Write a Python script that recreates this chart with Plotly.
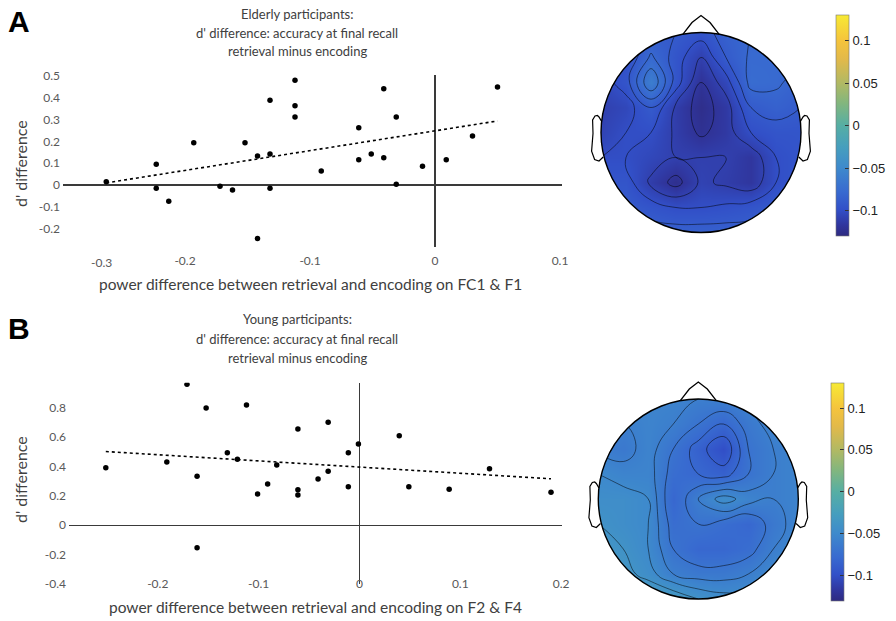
import numpy as np
import plotly.graph_objects as go

W, H = 896, 621

# ---------------- data ----------------
# A: elderly participants
eld_x = [-0.263, -0.223, -0.223, -0.213, -0.193, -0.172, -0.162, -0.152, -0.142, -0.142,
         -0.132, -0.132, -0.132, -0.112, -0.112, -0.112, -0.091, -0.061, -0.061, -0.051,
         -0.041, -0.041, -0.031, -0.031, -0.010, 0.009, 0.030, 0.050]
eld_y = [0.015, 0.095, -0.015, -0.075, 0.194, -0.006, -0.023, 0.194, 0.133, -0.245,
         0.389, 0.142, -0.015, 0.480, 0.364, 0.312, 0.064, 0.263, 0.116, 0.142,
         0.442, 0.125, 0.312, 0.003, 0.086, 0.116, 0.225, 0.450]

# B: young participants
yng_x = [-0.2515, -0.191, -0.171, -0.161, -0.161, -0.152, -0.131, -0.121, -0.112, -0.101,
         -0.091, -0.082, -0.061, -0.061, -0.061, -0.041, -0.031, -0.031, -0.011, -0.011,
         -0.001, 0.0395, 0.049, 0.089, 0.129, 0.190]
yng_y = [0.391, 0.430, 0.959, 0.333, -0.153, 0.798, 0.494, 0.449, 0.818, 0.212,
         0.280, 0.410, 0.655, 0.242, 0.206, 0.314, 0.700, 0.367, 0.494, 0.262,
         0.553, 0.609, 0.262, 0.244, 0.385, 0.224]

# tick labels
top_xticks = [-0.2, -0.1, 0, 0.1]
top_xtext = ["-0.2", "-0.1", "0", "0.1"]
top_yticks = [-0.2, -0.1, 0, 0.1, 0.2, 0.3, 0.4, 0.5]
top_ytext = ["-0.2", "-0.1", "0", "0.1", "0.2", "0.3", "0.4", "0.5"]
bot_xticks = [-0.2, -0.1, 0, 0.1, 0.2]
bot_xtext = ["-0.2", "-0.1", "0", "0.1", "0.2"]
bot_yticks = [-0.4, -0.2, 0, 0.2, 0.4, 0.6, 0.8]
bot_ytext = ["-0.4", "-0.2", "0", "0.2", "0.4", "0.6", "0.8"]
cb_range = [-0.13, 0.13]
cb_ticks = [-0.1, -0.05, 0, 0.05, 0.1]
cb_text = ["\u22120.1", "\u22120.05", "0", "0.05", "0.1"]

# topographic maps: coarse grid of power differences (head-normalised coords)
grid_u = [-1, -0.75, -0.5, -0.25, 0, 0.25, 0.5, 0.75, 1]
grid_v = [1, 0.75, 0.5, 0.25, 0, -0.25, -0.5, -0.75, -1]
topo_elderly = [
    [-0.100, -0.100, -0.090, -0.090, -0.095, -0.085, -0.080, -0.080, -0.080],
    [-0.100, -0.100, -0.078, -0.095, -0.110, -0.090, -0.078, -0.078, -0.080],
    [-0.105, -0.095, -0.060, -0.095, -0.120, -0.105, -0.076, -0.078, -0.085],
    [-0.110, -0.105, -0.090, -0.112, -0.125, -0.115, -0.090, -0.085, -0.090],
    [-0.108, -0.100, -0.100, -0.112, -0.122, -0.115, -0.100, -0.095, -0.095],
    [-0.100, -0.100, -0.105, -0.110, -0.110, -0.110, -0.117, -0.100, -0.095],
    [-0.095, -0.095, -0.112, -0.124, -0.108, -0.112, -0.117, -0.100, -0.095],
    [-0.090, -0.090, -0.095, -0.100, -0.100, -0.098, -0.095, -0.090, -0.090],
    [-0.082, -0.082, -0.085, -0.085, -0.085, -0.085, -0.085, -0.082, -0.082],
]
topo_young = [
    [-0.050, -0.050, -0.055, -0.055, -0.060, -0.060, -0.055, -0.050, -0.050],
    [-0.055, -0.060, -0.055, -0.060, -0.070, -0.080, -0.065, -0.055, -0.050],
    [-0.060, -0.065, -0.055, -0.070, -0.085, -0.100, -0.070, -0.060, -0.055],
    [-0.050, -0.055, -0.055, -0.075, -0.080, -0.085, -0.070, -0.060, -0.055],
    [-0.045, -0.045, -0.050, -0.080, -0.060, -0.045, -0.055, -0.060, -0.055],
    [-0.040, -0.045, -0.050, -0.075, -0.070, -0.075, -0.080, -0.065, -0.055],
    [-0.035, -0.040, -0.050, -0.070, -0.080, -0.080, -0.075, -0.060, -0.050],
    [-0.030, -0.035, -0.045, -0.060, -0.065, -0.065, -0.060, -0.050, -0.045],
    [-0.020, -0.020, -0.025, -0.030, -0.040, -0.045, -0.045, -0.040, -0.040],
]

# muted parula-like colour map, as it appears in the figure
parula = [[0.00, 'rgb(46,42,128)'], [0.05, 'rgb(48,54,158)'], [0.12, 'rgb(50,80,200)'],
          [0.20, 'rgb(56,106,208)'], [0.31, 'rgb(62,138,204)'], [0.40, 'rgb(70,158,190)'],
          [0.50, 'rgb(86,174,164)'], [0.60, 'rgb(130,182,126)'], [0.69, 'rgb(176,185,100)'],
          [0.80, 'rgb(226,185,74)'], [0.885, 'rgb(245,196,60)'], [1.00, 'rgb(247,234,52)']]

# ---------------- helpers ----------------
def fx(p):
    return p / W

def fy(p):
    return 1 - p / H

FONT = "Lato"
TICKC = "#595959"
TXTC = "#404040"

fig = go.Figure()

def fit_line(xs, ys):
    k, b = np.polyfit(xs, ys, 1)
    xl = np.array([min(xs), max(xs)])
    return xl, k * xl + b

# scatter A
fig.add_trace(go.Scatter(x=eld_x, y=eld_y, mode="markers", xaxis="x", yaxis="y",
                         marker=dict(color="black", size=5.5), showlegend=False))
lx, ly = fit_line(eld_x, eld_y)
fig.add_trace(go.Scatter(x=lx, y=ly, mode="lines", xaxis="x", yaxis="y",
                         line=dict(color="black", width=1.6, dash="dot"), showlegend=False))
# scatter B
fig.add_trace(go.Scatter(x=yng_x, y=yng_y, mode="markers", xaxis="x2", yaxis="y2",
                         marker=dict(color="black", size=5.5), showlegend=False))
lx, ly = fit_line(yng_x, yng_y)
fig.add_trace(go.Scatter(x=lx, y=ly, mode="lines", xaxis="x2", yaxis="y2",
                         line=dict(color="black", width=1.6, dash="dot"), showlegend=False))

def cbar(top, bottom, left):
    return dict(x=fx(left), xanchor="left", xpad=0, ypad=0,
                y=fy((top + bottom) / 2), yanchor="middle",
                len=(bottom - top) / H, lenmode="fraction", thickness=13,
                outlinewidth=0.6, outlinecolor="#777",
                tickvals=cb_ticks, ticktext=cb_text, ticks="inside", ticklen=4,
                tickcolor="#333", tickfont=dict(family="Liberation Sans", size=13, color="#222"))

for z, xa, ya, cb in [(topo_elderly, "x3", "y3", cbar(15, 236, 836)),
                      (topo_young, "x4", "y4", cbar(382.7, 601, 830.7))]:
    fig.add_trace(go.Contour(x=grid_u, y=grid_v, z=z, xaxis=xa, yaxis=ya,
                             colorscale=parula, zmin=cb_range[0], zmax=cb_range[1], zauto=False,
                             autocontour=False,
                             contours=dict(start=-0.13, end=0.13, size=0.01,
                                           coloring="heatmap", showlines=True),
                             line=dict(color="black", width=0.5, smoothing=1.3),
                             showscale=False, hoverinfo="skip"))
    # continuous colour bar for the map (invisible carrier trace)
    fig.add_trace(go.Scatter(x=[0], y=[0], xaxis=xa, yaxis=ya, mode="markers",
                             hoverinfo="skip", showlegend=False,
                             marker=dict(size=1, opacity=0, color=[cb_range[0]],
                                         cmin=cb_range[0], cmax=cb_range[1],
                                         colorscale=parula, showscale=True, colorbar=cb)))

axis_common = dict(showgrid=False, showline=False, ticks="", zeroline=True,
                   zerolinecolor="#3a3a3a", zerolinewidth=1.2,
                   tickfont=dict(family=FONT, size=12, color=TICKC), fixedrange=True)

layout = dict(
    width=W, height=H, margin=dict(l=0, r=0, t=0, b=0, autoexpand=False),
    paper_bgcolor="white", plot_bgcolor="white", showlegend=False,
    xaxis=dict(domain=[fx(63), fx(562)], range=[-0.2976, 0.1016], anchor="y",
               tickvals=top_xticks, ticktext=top_xtext, ticklabelstandoff=5, **axis_common),
    yaxis=dict(domain=[fy(247), fy(75)], range=[-0.2844, 0.5046], anchor="x",
               tickvals=top_yticks, ticktext=top_ytext, ticklabelstandoff=2, **axis_common),
    xaxis2=dict(domain=[fx(69), fx(562)], range=[-0.288, 0.2009], anchor="free",
                position=fy(575), tickvals=bot_xticks, ticktext=bot_xtext, **axis_common),
    yaxis2=dict(domain=[fy(584), fy(382.7)], range=[-0.4, 0.970], anchor="x2",
                tickvals=bot_yticks, ticktext=bot_ytext, ticklabelstandoff=2, **axis_common),
    xaxis3=dict(domain=[fx(590), fx(812)], range=[-1.11, 1.11], visible=False, fixedrange=True),
    yaxis3=dict(domain=[fy(235.5), fy(13.5)], range=[-1.03, 1.19], visible=False, fixedrange=True),
    xaxis4=dict(domain=[fx(587.3), fx(809.3)], range=[-1.11, 1.11], visible=False, fixedrange=True),
    yaxis4=dict(domain=[fy(602), fy(380)], range=[-1.03, 1.19], visible=False, fixedrange=True),
)
fig.update_layout(**layout)

# head outlines
th = np.linspace(0, 2 * np.pi, 181)
circ = " ".join(f"L {np.cos(-t):.4f},{np.sin(-t):.4f}" for t in th[1:])
mask_path = ("M -1.3,-1.3 L 1.3,-1.3 L 1.3,1.3 L -1.3,1.3 Z "
             f"M 1,0 {circ} Z")
ear_u = [0.994, 1.020, 1.036, 1.060, 1.084, 1.080, 1.094, 1.064, 1.020, 0.978]
ear_v = [0.111, 0.155, 0.170, 0.165, 0.125, -0.011, -0.186, -0.270, -0.285, -0.245]
shapes = []
for xa, ya in [("x3", "y3"), ("x4", "y4")]:
    shapes.append(dict(type="path", xref=xa, yref=ya, path=mask_path,
                       fillcolor="white", line=dict(width=0), layer="above"))
    shapes.append(dict(type="circle", xref=xa, yref=ya, x0=-1, x1=1, y0=-1, y1=1,
                       line=dict(color="black", width=1.4), layer="above"))
    shapes.append(dict(type="path", xref=xa, yref=ya,
                       path="M 0.18,0.984 L 0.09,1.10 L 0.0,1.17 L -0.09,1.10 L -0.18,0.984",
                       line=dict(color="black", width=1.3), layer="above"))
    for s in (1, -1):
        p = "M " + " L ".join(f"{s*u:.3f},{v:.3f}" for u, v in zip(ear_u, ear_v))
        shapes.append(dict(type="path", xref=xa, yref=ya, path=p,
                           line=dict(color="black", width=1.2), layer="above"))
fig.update_layout(shapes=shapes)

ann = []
def txt(text, x, y, size, color=TXTC, family=FONT, angle=0, bold=False):
    ann.append(dict(text=f"<b>{text}</b>" if bold else text, x=fx(x),
                    y=fy(y), xref="paper", yref="paper", showarrow=False,
                    xanchor="center", yanchor="middle", textangle=angle,
                    font=dict(family=family, size=size, color=color)))

txt("A", 19, 21, 30, color="black", family="Liberation Sans", bold=True)
txt("B", 19, 328, 30, color="black", family="Liberation Sans", bold=True)
for i, line in enumerate(["Elderly participants:", "d' difference: accuracy at final recall",
                          "retrieval minus encoding"]):
    txt(line, 297, 14 + 18.5 * i, 13)
for i, line in enumerate(["Young participants:", "d' difference: accuracy at final recall",
                          "retrieval minus encoding"]):
    txt(line, 297, 319 + 19.5 * i, 13)
txt("power difference between retrieval and encoding on FC1 &amp; F1", 310, 284, 15.5)
txt("power difference between retrieval and encoding on F2 &amp; F4", 315, 607, 15.5)
txt("d' difference", 20, 164, 16, angle=-90)
txt("d' difference", 20, 480, 16, angle=-90)
# first x tick label of panel A sits next to the left-most point
ann.append(dict(text="-0.3", x=-0.267, xref="x", y=fy(262), yref="paper", showarrow=False,
                xanchor="center", yanchor="middle",
                font=dict(family=FONT, size=12, color=TICKC)))
fig.update_layout(annotations=ann)

fig.write_html("out.html", config={"displayModeBar": False, "staticPlot": True},
               post_script="document.body.style.margin='0px';"
                           "document.body.style.overflow='hidden';")
